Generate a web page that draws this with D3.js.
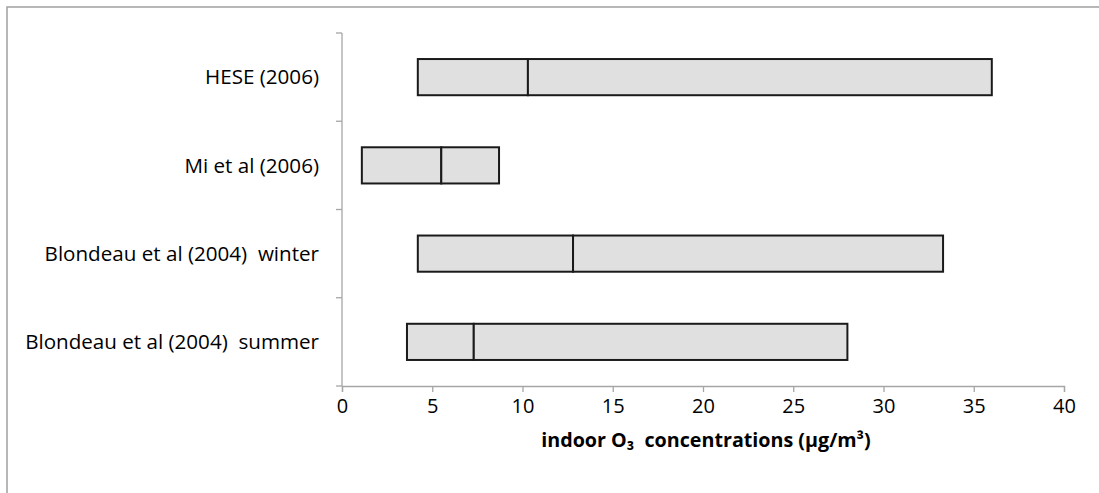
<!DOCTYPE html>
<html>
<head>
<meta charset="utf-8">
<script src="https://cdn.jsdelivr.net/npm/d3@7"></script>
<style>
  body { margin: 0; background: #fff; }
  svg { display: block; }
  text { font-family: "Open Sans", sans-serif; fill: #000; white-space: pre; }
</style>
</head>
<body>
<svg width="1099" height="493"></svg>
<script>
// study labels, top to bottom
var studies = ["HESE (2006)", "Mi et al (2006)", "Blondeau et al (2004)  winter", "Blondeau et al (2004)  summer"];
var lows    = [4.2, 1.1, 4.2, 3.6];
var medians = [10.3, 5.5, 12.8, 7.3];
var highs   = [36.0, 8.7, 33.3, 28.0];
var xTicks  = [0, 5, 10, 15, 20, 25, 30, 35, 40];

var svg = d3.select("svg");

// outer frame (runs off to the right and bottom)
svg.append("rect")
    .attr("x", 7).attr("y", 7)
    .attr("width", 1200).attr("height", 600)
    .attr("fill", "none")
    .attr("stroke", "#a0a0a0")
    .attr("stroke-width", 1.5);

var x = d3.scaleLinear().domain([0, 40]).range([342, 1064]);
var y = d3.scaleBand().domain(studies).range([33, 386]).paddingInner(0.59).paddingOuter(0.295);

var axisColor = "#a6a6a6";

// x axis
var gx = svg.append("g").attr("transform", "translate(0,386)")
    .call(d3.axisBottom(x).tickValues(xTicks).tickSize(6).tickSizeOuter(6).tickPadding(7));
gx.select(".domain").attr("stroke", axisColor).attr("stroke-width", 1.3);
gx.selectAll(".tick line").attr("stroke", axisColor).attr("stroke-width", 1.3);
gx.selectAll(".tick text").attr("font-size", 20).attr("font-family", "Open Sans, sans-serif").attr("fill", "#000");

// y axis line and boundary ticks
var bounds = d3.range(studies.length + 1).map(function(i) { return 33 + i * (386 - 33) / studies.length; });
svg.append("line")
    .attr("x1", 342).attr("x2", 342).attr("y1", 33).attr("y2", 386)
    .attr("stroke", axisColor).attr("stroke-width", 1.3);
svg.selectAll(".ytick").data(bounds).enter().append("line")
    .attr("class", "ytick")
    .attr("x1", 336).attr("x2", 342)
    .attr("y1", function(d) { return d; }).attr("y2", function(d) { return d; })
    .attr("stroke", axisColor).attr("stroke-width", 1.3);

// category labels
svg.selectAll(".ylab").data(studies).enter().append("text")
    .attr("class", "ylab")
    .attr("x", 319)
    .attr("y", function(d) { return y(d) + y.bandwidth() / 2; })
    .attr("dy", "0.35em")
    .attr("text-anchor", "end")
    .attr("font-size", 20.6)
    .text(function(d) { return d; });

// bars: low->median and median->high
var rows = studies.map(function(s, i) { return {s: s, lo: lows[i], md: medians[i], hi: highs[i]}; });
var segs = [];
rows.forEach(function(r) {
  segs.push({s: r.s, a: r.lo, b: r.md});
  segs.push({s: r.s, a: r.md, b: r.hi});
});
svg.selectAll(".seg").data(segs).enter().append("rect")
    .attr("class", "seg")
    .attr("x", function(d) { return x(d.a); })
    .attr("y", function(d) { return y(d.s); })
    .attr("width", function(d) { return x(d.b) - x(d.a); })
    .attr("height", y.bandwidth())
    .attr("fill", "#e0e0e0")
    .attr("stroke", "#1a1a1a")
    .attr("stroke-width", 2);

// axis title
svg.append("text")
    .attr("x", 706).attr("y", 447)
    .attr("text-anchor", "middle")
    .attr("font-size", 19.7)
    .attr("font-weight", "bold")
    .text("indoor O\u2083  concentrations (\u00b5g/m\u00b3)");
</script>
</body>
</html>
